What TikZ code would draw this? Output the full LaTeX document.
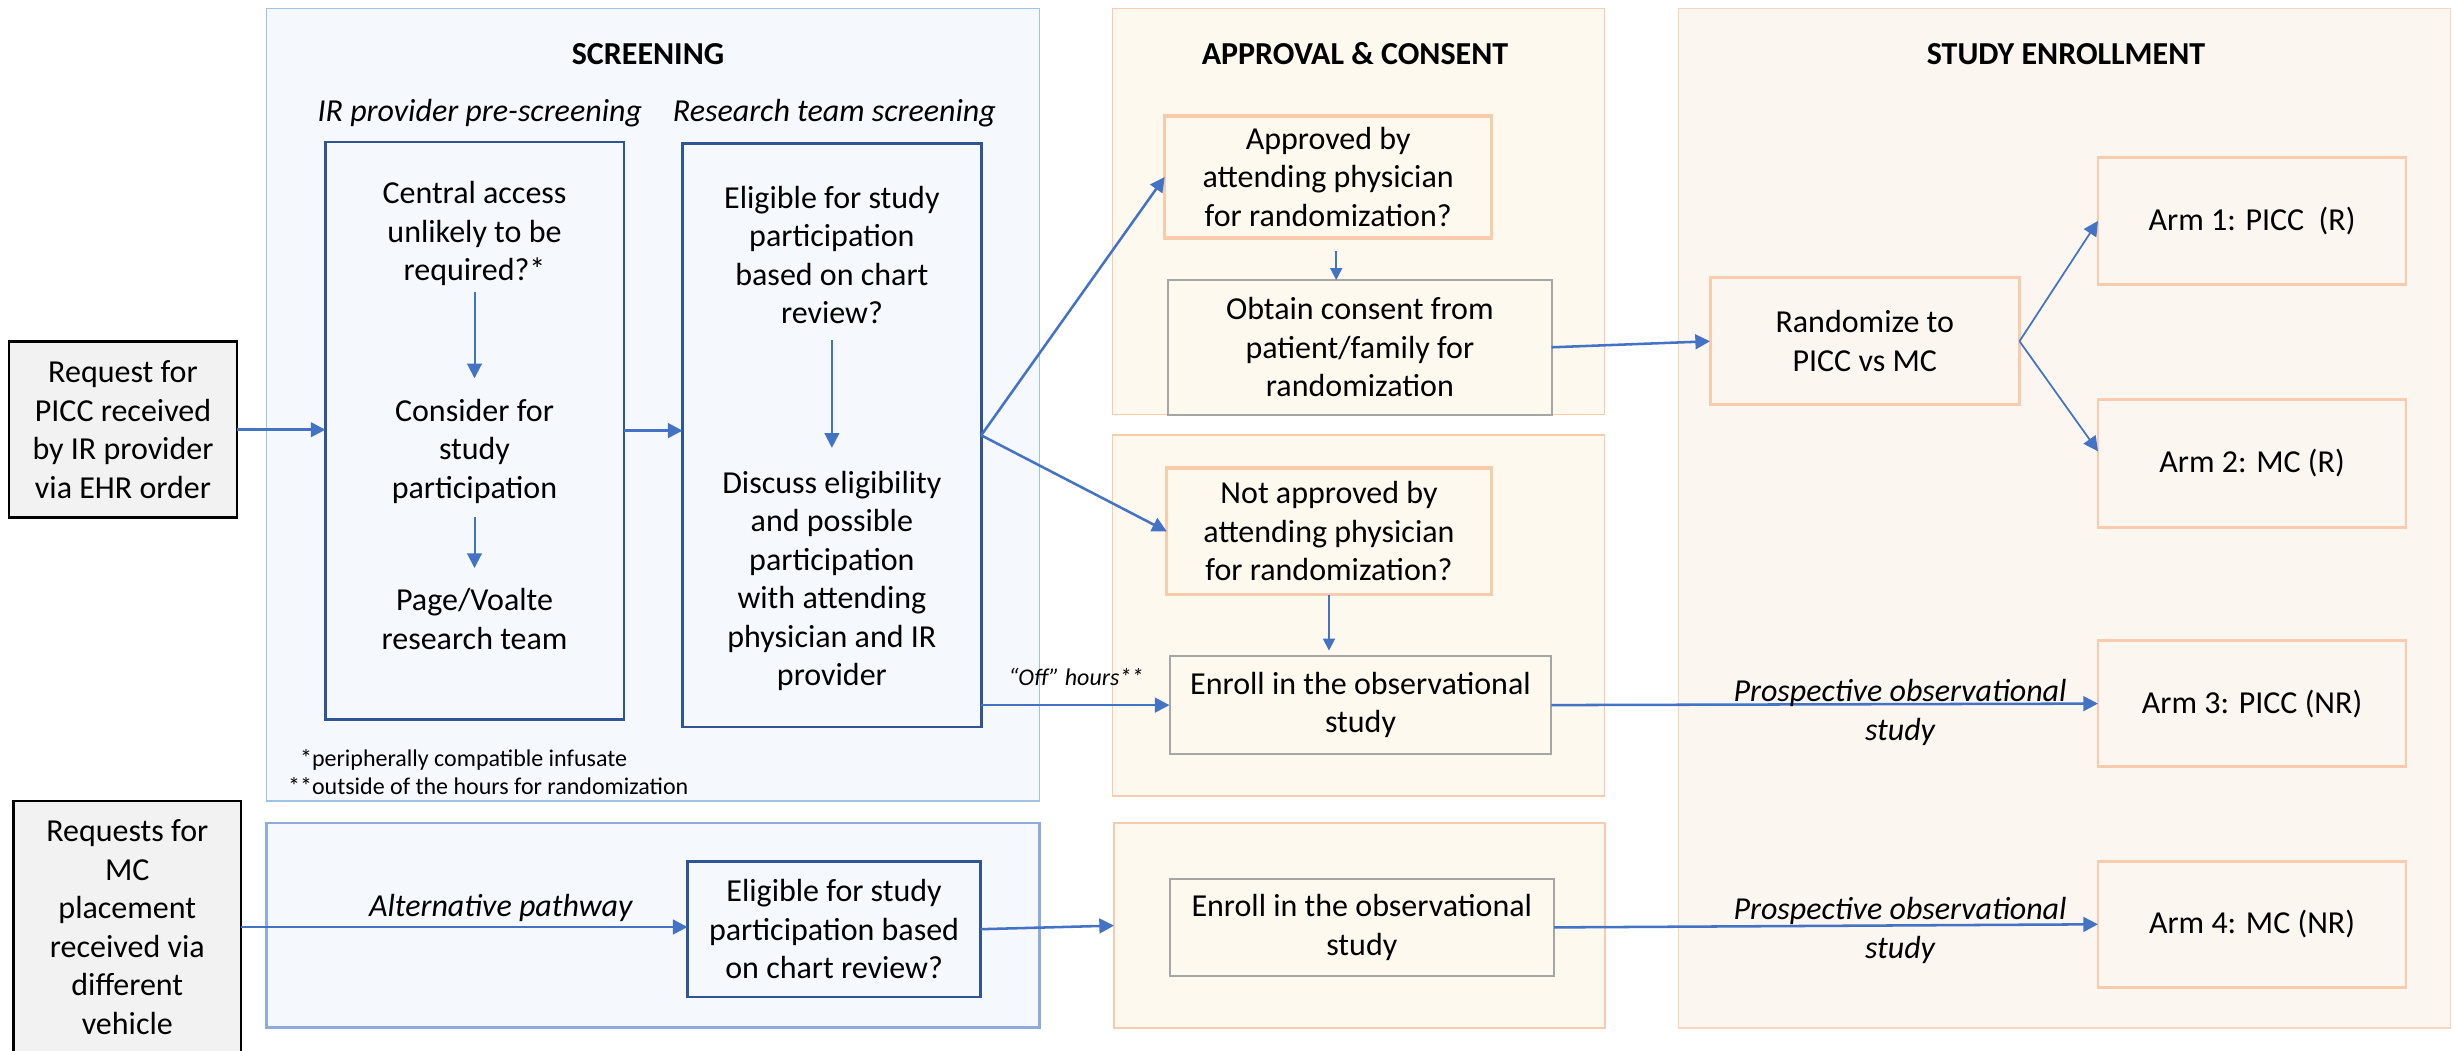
\documentclass[tikz,border=0pt]{standalone}
\usepackage{fontspec}
\setmainfont{Carlito}
\usetikzlibrary{arrows.meta}
\tikzset{every picture/.style={line width=0.75pt}}

\definecolor{arrblue}{RGB}{68,114,196}
\definecolor{scrfill}{RGB}{245,248,252}
\definecolor{scrline}{RGB}{157,195,230}
\definecolor{scrlinedk}{RGB}{143,170,220}
\definecolor{darkblue}{RGB}{47,85,151}
\definecolor{appfill}{RGB}{254,249,238}
\definecolor{enrfill}{RGB}{251,246,240}
\definecolor{peach}{RGB}{248,203,173}
\definecolor{boxgrey}{RGB}{166,166,166}
\definecolor{reqfill}{RGB}{242,242,242}

\newcommand{\bodysize}{\fontsize{24}{28.9}\selectfont}
\newcommand{\notesize}{\fontsize{18}{21}\selectfont}

\tikzset{
  panel/.style={draw, inner sep=0pt, outer sep=0pt},
  scrpanel/.style={panel, draw=scrline, fill=scrfill, line width=1.1pt},
  apppanel/.style={panel, draw=peach, fill=appfill, line width=1.1pt},
  enrpanel/.style={panel, draw=peach!80, fill=enrfill, line width=1.1pt},
  txt/.style={font=\bodysize, align=center, inner sep=4pt},
  head/.style={font=\bodysize\bfseries},
  subhead/.style={font=\bodysize\itshape},
  pathlbl/.style={txt, font=\bodysize\itshape},
  box/.style={txt, draw, outer sep=0pt},
  reqbox/.style={box, draw=black, fill=reqfill, line width=1.9pt},
  bluebox/.style={box, draw=darkblue, line width=1.9pt},
  orbox/.style={box, draw=peach, line width=2.4pt},
  greybox/.style={box, draw=boxgrey, line width=1.5pt},
  enrbox/.style={box, draw=peach, line width=2.2pt},
  flow/.style={draw=arrblue, line width=1.9pt, -{Triangle[length=11pt,width=11pt]}},
  inflow/.style={flow, line width=1.5pt, shorten >=11pt},
  thinflow/.style={flow, line width=1.2pt, -{Triangle[length=9pt,width=9pt]}},
  forkflow/.style={flow, line width=1.3pt}
}

\begin{document}
\begin{tikzpicture}[x=0.75pt,y=0.75pt,yscale=-1,xscale=1]
\useasboundingbox (0,0) rectangle (2453,1050);

% Panels
\node[scrpanel, minimum width=579.8pt, minimum height=594.5pt] (scrA) at (653.15,404.65) {};
\node[scrpanel, draw=scrlinedk, line width=1.9pt, minimum width=579.8pt, minimum height=153.2pt] (scrB) at (653.15,925.35) {};
\node[apppanel, minimum width=368.9pt, minimum height=304.7pt] (appA) at (1358.45,211.4) {};
\node[apppanel, minimum width=368.9pt, minimum height=270.75pt] (appB) at (1358.6,615.5) {};
\node[apppanel, line width=1.9pt, minimum width=368.25pt, minimum height=153.6pt] (appC) at (1359.5,925.6) {};
\node[enrpanel, minimum width=579.3pt, minimum height=764.9pt] (enr) at (2064.5,518.25) {};

% Headings
\node[head] (hscr) at (648,54) {SCREENING};
\node[head] (happ) at (1355,54) {APPROVAL \& CONSENT};
\node[head] (henr) at (2066,54) {STUDY ENROLLMENT};
\node[subhead] (hpre) at (479.8,112.7) {IR provider pre-screening};
\node[subhead] (hrts) at (834.4,112.7) {Research team screening};

% Requests
\node[reqbox, minimum width=171pt, minimum height=132pt] (req) at (123,429.7) {Request for\\PICC received\\by IR provider\\via EHR order};
\node[reqbox, minimum width=170.6pt, minimum height=189pt] (mcreq) at (127.3,927) {Requests for\\MC\\placement\\received via\\different\\vehicle};

% Screening boxes
\node[bluebox, minimum width=223.9pt, minimum height=433pt] (pre) at (474.7,430.6) {};
\node[bluebox, minimum width=224pt, minimum height=437.6pt] (rts) at (831.9,435.3) {};
\node[txt] (central) at (474.5,233.8) {Central access\\unlikely to be\\required?*};
\node[txt] (consider) at (474.5,451) {Consider for\\study\\participation};
\node[txt] (page) at (474.5,619) {Page/Voalte\\research team};
\node[txt] (elig) at (831.9,254.8) {Eligible for study\\participation\\based on chart\\review?};
\node[txt] (discuss) at (831.9,581) {Discuss eligibility\\and possible\\participation\\with attending\\physician and IR\\provider};
\node[bluebox, minimum width=219.9pt, minimum height=101.8pt] (elig2) at (834.1,929.2) {Eligible for study\\participation based\\on chart review?};

% Approval & consent boxes
\node[orbox, minimum width=245.3pt, minimum height=91.5pt] (approved) at (1328.2,177) {Approved by\\attending physician\\for randomization?};
\node[greybox, minimum width=287.4pt, minimum height=100.9pt] (obtain) at (1359.9,347.3) {Obtain consent from\\patient/family for\\randomization};
\node[orbox, minimum width=243.3pt, minimum height=95.1pt] (notapp) at (1329,531.4) {Not approved by\\attending physician\\for randomization?};
\node[greybox, minimum width=286.4pt, minimum height=73.8pt] (enroll1) at (1360.5,705.1) {Enroll in the observational\\study};
\node[greybox, minimum width=288.3pt, minimum height=72.9pt] (enroll2) at (1361.8,927.4) {Enroll in the observational\\study};

% Enrollment boxes
\node[enrbox, minimum width=232.1pt, minimum height=95pt] (rand) at (1864.75,341.25) {Randomize to\\PICC vs MC};
\node[enrbox, minimum width=231pt, minimum height=95pt] (arm1) at (2252,220.9) {Arm 1: PICC\ \ (R)};
\node[enrbox, minimum width=231pt, minimum height=96.4pt] (arm2) at (2252,463.3) {Arm 2: MC (R)};
\node[enrbox, minimum width=231pt, minimum height=95pt] (arm3) at (2252,703.6) {Arm 3: PICC (NR)};
\node[enrbox, minimum width=231pt, minimum height=94.5pt] (arm4) at (2252,924.3) {Arm 4: MC (NR)};

% Arrows
\draw[flow] (req.east) -- (req.east -| pre.west);
\draw[flow] (pre.east) -- (pre.east -| rts.west);
\draw[inflow] (central) -- (consider);
\draw[inflow, shorten <=6pt] (consider) -- (page);
\draw[inflow, shorten <=8pt, shorten >=13pt] (elig) -- (discuss);
\draw[flow] (rts.east) -- (approved.west);
\draw[flow] (rts.east) -- (notapp.west);
\draw[flow] (rts.east |- enroll1.west) -- (enroll1.west);
\draw[thinflow, shorten <=10pt] ([xshift=6pt]approved.south) -- ([xshift=6pt]approved.south |- obtain.north);
\draw[thinflow, shorten >=4pt] (notapp.south) -- (notapp.south |- enroll1.north);
\draw[flow] (obtain.east) -- (rand.west);
\draw[forkflow] (rand.east) -- (arm1.west);
\draw[forkflow] (rand.east) -- ([yshift=-9pt]arm2.west);
\draw[flow] (enroll1.east) -- (arm3.west);
\draw[flow] (mcreq.east) -- (mcreq.east -| elig2.west);
\draw[flow] (elig2.east) -- (appC.west);
\draw[flow] (enroll2.east) -- (arm4.west);

% Text Node
\node[font=\notesize, align=left, anchor=west, inner sep=0pt] (notes) at (287.6,772) {\hphantom{*}*peripherally compatible infusate\\**outside of the hours for randomization};
\node[font=\notesize\itshape, inner sep=0pt] (offh) at (1076,677) {``Off'' hours**};
\node[pathlbl] (alt) at (500.7,908) {Alternative pathway};
\node[pathlbl] (pros1) at (1900,712.7) {Prospective observational\\study};
\node[pathlbl] (pros2) at (1900,930.2) {Prospective observational\\study};

\end{tikzpicture}
\end{document}
